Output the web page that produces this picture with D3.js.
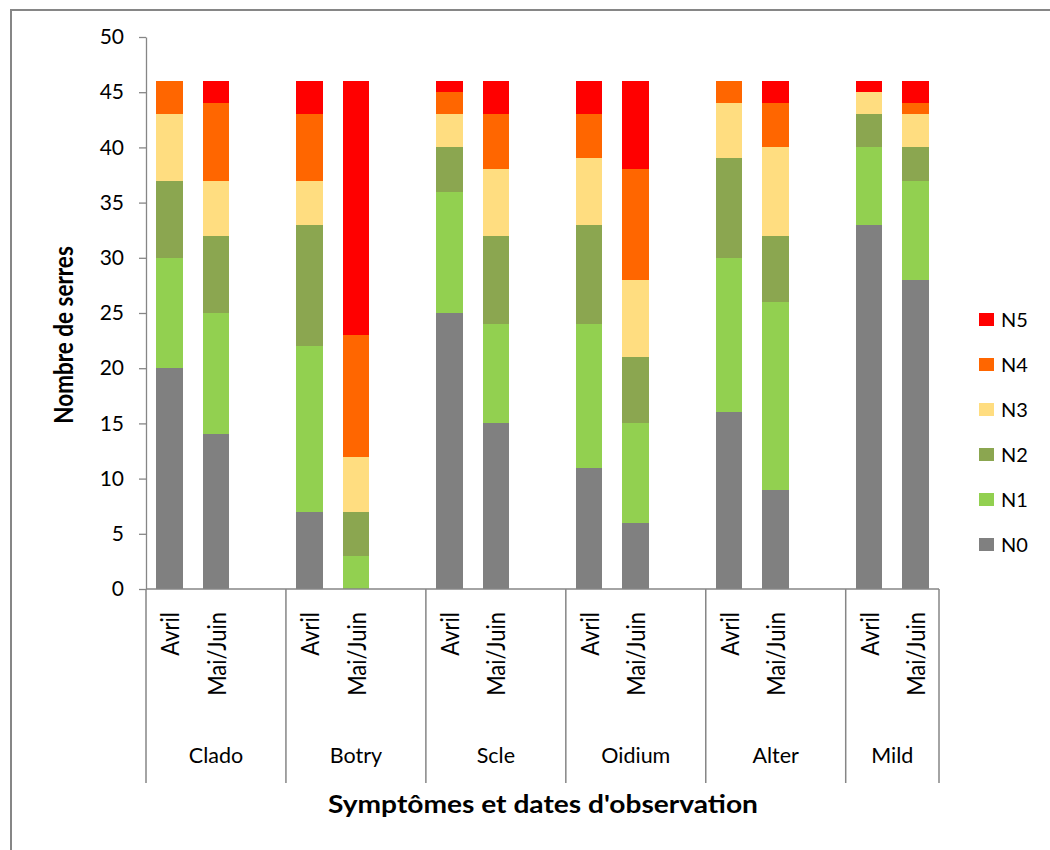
<!DOCTYPE html>
<html>
<head>
<meta charset="utf-8">
<script src="https://cdn.jsdelivr.net/npm/d3@7"></script>
<style>
  html, body { margin: 0; padding: 0; background: #fff; }
  svg { display: block; }
  text { font-family: Lato, "Open Sans", sans-serif; fill: #000; }
</style>
</head>
<body>
<svg id="chart" width="1050" height="850"></svg>
<script>
// Diseases (groups) and observation dates
const groups = ["Clado", "Botry", "Scle", "Oidium", "Alter", "Mild"];
const dates = ["Avril", "Mai/Juin"];
const levels = ["N0", "N1", "N2", "N3", "N4", "N5"];

// Number of greenhouses per severity level, one value per (group, date)
const N0 = [20, 14, 7, 0, 25, 15, 11, 6, 16, 9, 33, 28];
const N1 = [10, 11, 15, 3, 11, 9, 13, 9, 14, 17, 7, 9];
const N2 = [7, 7, 11, 4, 4, 8, 9, 6, 9, 6, 3, 3];
const N3 = [6, 5, 4, 5, 3, 6, 6, 7, 5, 8, 2, 3];
const N4 = [3, 7, 6, 11, 2, 5, 4, 10, 2, 4, 0, 1];
const N5 = [0, 2, 3, 23, 1, 3, 3, 8, 0, 2, 1, 2];

const yTicks = [0, 5, 10, 15, 20, 25, 30, 35, 40, 45, 50];
const colors = ["#808080", "#92D050", "#8BA650", "#FFDD80", "#FF6600", "#FF0000"];

const series = [N0, N1, N2, N3, N4, N5];

// One row per bar
const rows = [];
groups.forEach((g, gi) => {
  dates.forEach((d, di) => {
    const idx = gi * dates.length + di;
    const row = { key: g + "|" + d, group: g, date: d };
    levels.forEach((lv, li) => { row[lv] = series[li][idx]; });
    rows.push(row);
  });
});

// Category slots: each group holds its two dates plus an empty slot, except the last
const slots = [];
groups.forEach((g, gi) => {
  dates.forEach(d => slots.push(g + "|" + d));
  if (gi < groups.length - 1) slots.push(g + "|gap");
});

const svg = d3.select("#chart");
const plotLeft = 146, plotRight = 939, plotTop = 37, plotBottom = 589, catBottom = 783;
const axisColor = "#868686";

// Outer chart frame
svg.append("rect")
  .attr("x", 11).attr("y", 10)
  .attr("width", 1060).attr("height", 860)
  .attr("fill", "none").attr("stroke", axisColor).attr("stroke-width", 2);

const x = d3.scaleBand().domain(slots).range([plotLeft, plotRight]).paddingInner(0.43).paddingOuter(0.215);
const y = d3.scaleLinear().domain([0, 50]).range([plotBottom, plotTop]);

const stacked = d3.stack().keys(levels)(rows);

// Stacked bars
svg.append("g").selectAll("g")
  .data(stacked)
  .join("g")
  .attr("fill", (d, i) => colors[i])
  .selectAll("rect")
  .data(d => d)
  .join("rect")
  .attr("x", d => x(d.data.key))
  .attr("width", x.bandwidth())
  .attr("y", d => y(d[1]))
  .attr("height", d => y(d[0]) - y(d[1]))
  .attr("shape-rendering", "crispEdges");

// Y axis
const yAxis = svg.append("g")
  .attr("transform", `translate(${plotLeft},0)`)
  .call(d3.axisLeft(y).tickValues(yTicks).tickSizeInner(7).tickSizeOuter(0).tickPadding(15));
yAxis.selectAll("path, line").attr("stroke", axisColor).attr("stroke-width", 1.3);
yAxis.selectAll("text").style("font-size", "21px").attr("fill", "#111");

// X axis baseline and group separators
const half = (x.step() - x.bandwidth()) / 2;
svg.append("line")
  .attr("x1", plotLeft).attr("x2", plotRight)
  .attr("y1", y(0)).attr("y2", y(0))
  .attr("stroke", axisColor).attr("stroke-width", 1.5);

const bounds = groups.map(g => x(g + "|" + dates[0]) - half).concat([plotRight]);
svg.append("g").selectAll("line")
  .data(bounds)
  .join("line")
  .attr("x1", d => d).attr("x2", d => d)
  .attr("y1", y(0)).attr("y2", catBottom)
  .attr("stroke", axisColor).attr("stroke-width", 1.5);

// Date labels (rotated)
svg.append("g").selectAll("text")
  .data(rows)
  .join("text")
  .attr("transform", d => `translate(${x(d.key) + x.bandwidth() / 2 + 1},612) rotate(-90) scale(1,1.12)`)
  .attr("text-anchor", "end")
  .attr("dy", "0.35em")
  .style("font-size", "22px")
  .text(d => d.date);

// Group labels
svg.append("g").selectAll("text")
  .data(groups)
  .join("text")
  .attr("x", (g, i) => (bounds[i] + bounds[i + 1]) / 2)
  .attr("y", 763)
  .attr("text-anchor", "middle")
  .style("font-size", "21.5px")
  .text(g => g);

// Axis titles
svg.append("text")
  .attr("x", 543).attr("y", 813)
  .attr("text-anchor", "middle")
  .attr("textLength", 430)
  .attr("lengthAdjust", "spacingAndGlyphs")
  .style("font-size", "25px").style("font-weight", "bold")
  .text("Symptômes et dates d'observation");

svg.append("text")
  .attr("transform", "translate(73,335) rotate(-90) scale(1,1.2)")
  .attr("text-anchor", "middle")
  .style("font-size", "22.5px").style("font-weight", "bold")
  .text("Nombre de serres");

// Legend, top to bottom from N5 down to N0
const legendLevels = levels.slice().reverse();
const legend = svg.append("g").selectAll("g")
  .data(legendLevels)
  .join("g")
  .attr("transform", (d, i) => `translate(979,${320 + i * 45})`);
legend.append("rect")
  .attr("x", 0).attr("y", -7)
  .attr("width", 15).attr("height", 13)
  .attr("fill", d => colors[levels.indexOf(d)]);
legend.append("text")
  .attr("x", 22).attr("y", 0)
  .attr("dy", "0.35em")
  .style("font-size", "20px")
  .text(d => d);
</script>
</body>
</html>
